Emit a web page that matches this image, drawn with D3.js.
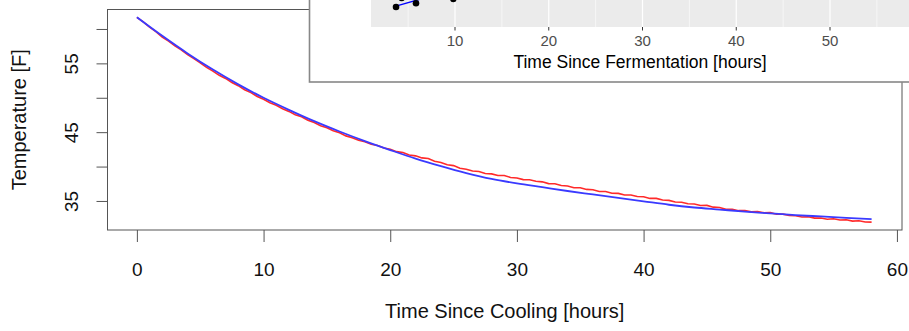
<!DOCTYPE html>
<html>
<head>
  <meta charset="utf-8">
  <title>Cooling curve</title>
  <script src="https://d3js.org/d3.v7.min.js"></script>
  <style>
    body { margin: 0; background: #fff; }
    svg { display: block; }
    text { font-family: "Liberation Sans", Arial, sans-serif; }
  </style>
</head>
<body>
  <svg id="chart"></svg>

  <script>
    // fitted cooling model (blue)
    const modelTime = [0, 2, 4, 6, 8, 10, 12, 14, 16, 18, 20, 22, 24, 26, 28, 30,
      32, 34, 36, 38, 40, 42, 44, 46, 48, 50, 52, 54, 56, 58];
    const modelTemp = [61.7, 59.0, 56.45, 54.1, 51.95, 50.0, 48.25, 46.6, 45.1, 43.7,
      42.4, 41.15, 40.05, 39.05, 38.2, 37.55, 37.0, 36.45, 35.95, 35.45, 34.95,
      34.45, 34.05, 33.75, 33.45, 33.2, 32.95, 32.75, 32.55, 32.35];

    // measured temperature (red)
    const measured = [
      [0, 61.70], [0.5, 61.03], [1, 60.28], [1.5, 59.60], [2, 58.82], [2.5, 58.25],
      [3, 57.55], [3.5, 56.97], [4, 56.26], [4.5, 55.68], [5, 55.07], [5.5, 54.41],
      [6, 53.87], [6.5, 53.26], [7, 52.81], [7.5, 52.22], [8, 51.76], [8.5, 51.17],
      [9, 50.75], [9.5, 50.19], [10, 49.79], [10.5, 49.29], [11, 48.92], [11.5, 48.40],
      [12, 48.02], [12.5, 47.54], [13, 47.23], [13.5, 46.73], [14, 46.39], [14.5, 45.93],
      [15, 45.63], [15.5, 45.20], [16, 44.90], [16.5, 44.46], [17, 44.18], [17.5, 43.82],
      [18, 43.60], [18.5, 43.23], [19, 43.06], [19.5, 42.69], [20, 42.52], [20.5, 42.17],
      [21, 42.05], [21.5, 41.69], [22, 41.56], [22.5, 41.26], [23, 41.18], [23.5, 40.76],
      [24, 40.60], [24.5, 40.26], [25, 40.14], [25.5, 39.75], [26, 39.61], [26.5, 39.36],
      [27, 39.29], [27.5, 39.00], [28, 38.94], [28.5, 38.71], [29, 38.70], [29.5, 38.42],
      [30, 38.35], [30.5, 38.10], [31, 38.09], [31.5, 37.86], [32, 37.78], [32.5, 37.52],
      [33, 37.50], [33.5, 37.24], [34, 37.18], [34.5, 36.93], [35, 36.92], [35.5, 36.68],
      [36, 36.63], [36.5, 36.38], [37, 36.38], [37.5, 36.13], [38, 36.10], [38.5, 35.86],
      [39, 35.87], [39.5, 35.64], [40, 35.61], [40.5, 35.37], [41, 35.38], [41.5, 35.13],
      [42, 35.08], [42.5, 34.84], [43, 34.82], [43.5, 34.60], [44, 34.56], [44.5, 34.34],
      [45, 34.36], [45.5, 34.10], [46, 34.05], [46.5, 33.79], [47, 33.79], [47.5, 33.59],
      [48, 33.59], [48.5, 33.41], [49, 33.46], [49.5, 33.28], [50, 33.30], [50.5, 33.08],
      [51, 33.09], [51.5, 32.88], [52, 32.86], [52.5, 32.67], [53, 32.71], [53.5, 32.51],
      [54, 32.52], [54.5, 32.34], [55, 32.41], [55.5, 32.24], [56, 32.26], [56.5, 32.07],
      [57, 32.13], [57.5, 31.94], [58, 31.93]
    ];

    const xTicks = [0, 10, 20, 30, 40, 50, 60];
    const yTicks = [35, 40, 45, 50, 55, 60];
    const yLabels = [35, 45, 55];

    // inset (ggplot panel, only its bottom strip is visible)
    const insetMajor = [10, 20, 30, 40, 50];
    const insetMinor = [5, 15, 25, 35, 45, 55];
    const insetPoints = [[3.71, 64.5], [4.31, 65.63], [5.84, 64.96], [9.82, 65.5]];
    const insetFit = [[3.7, 64.6], [6.5, 65.55]];

    const W = 909, H = 331;
    const svg = d3.select("#chart").attr("width", W).attr("height", H);

    const x = d3.scaleLinear().domain([-2.32, 60.4]).range([107.5, 902]);
    const y = d3.scaleLinear().domain([30.78, 62.83]).range([230, 9.5]);
    const axisCol = "#555";

    // lines
    const modelData = modelTime.map((t, i) => [t, modelTemp[i]]);
    const line = d3.line().x(d => x(d[0])).y(d => y(d[1]));

    svg.append("path")
      .datum(measured)
      .attr("d", line)
      .attr("fill", "none")
      .attr("stroke", "#ff2a2a")
      .attr("stroke-width", 1.6);

    svg.append("path")
      .datum(modelData)
      .attr("d", line.curve(d3.curveMonotoneX))
      .attr("fill", "none")
      .attr("stroke", "#3a3aff")
      .attr("stroke-width", 1.8);

    // box
    svg.append("rect")
      .attr("x", x.range()[0]).attr("y", y.range()[1])
      .attr("width", x.range()[1] - x.range()[0])
      .attr("height", y.range()[0] - y.range()[1])
      .attr("fill", "none")
      .attr("stroke", axisCol);

    // x axis
    const gx = svg.append("g")
      .attr("transform", `translate(0,${y.range()[0]})`)
      .call(d3.axisBottom(x).tickValues(xTicks).tickSize(12).tickPadding(21));
    gx.select(".domain").remove();
    gx.selectAll("line").attr("stroke", axisCol);
    gx.selectAll("text").attr("font-size", 19).attr("fill", "#111")
      .style("font-family", "'Liberation Sans', Arial, sans-serif");

    // y axis
    const gy = svg.append("g")
      .attr("transform", `translate(${x.range()[0]},0)`)
      .call(d3.axisLeft(y).tickValues(yTicks).tickSize(11)
        .tickFormat(d => yLabels.includes(d) ? d : ""));
    gy.select(".domain").remove();
    gy.selectAll("line").attr("stroke", axisCol);
    gy.selectAll("text")
      .attr("x", 0).attr("dy", 0)
      .attr("text-anchor", "middle")
      .attr("transform", "translate(-29.5,0) rotate(-90)")
      .attr("font-size", 19).attr("fill", "#111")
      .style("font-family", "'Liberation Sans', Arial, sans-serif");

    // axis titles
    svg.append("text")
      .attr("x", (x.range()[0] + x.range()[1]) / 2)
      .attr("y", 318)
      .attr("text-anchor", "middle")
      .attr("font-size", 20)
      .attr("fill", "#111")
      .text("Time Since Cooling [hours]");

    svg.append("text")
      .attr("transform", `translate(26,${(y.range()[0] + y.range()[1]) / 2}) rotate(-90)`)
      .attr("text-anchor", "middle")
      .attr("font-size", 20)
      .attr("fill", "#111")
      .text("Temperature [F]");

    // inset plot
    const ix = d3.scaleLinear().domain([10, 50]).range([455, 830]);
    const iy = d3.scaleLinear().domain([62, 70]).range([27, -37]);
    const inset = svg.append("g");

    inset.append("rect")
      .attr("x", 309.5).attr("y", -5)
      .attr("width", 620).attr("height", 87)
      .attr("fill", "#fff")
      .attr("stroke", "#888")
      .attr("stroke-width", 1.6);

    inset.append("rect")
      .attr("x", 371).attr("y", -5)
      .attr("width", 560).attr("height", 32)
      .attr("fill", "#ebebeb");

    inset.selectAll(".minor")
      .data(insetMinor)
      .enter()
      .append("line")
      .attr("class", "minor")
      .attr("x1", d => ix(d)).attr("x2", d => ix(d))
      .attr("y1", -5).attr("y2", 27)
      .attr("stroke", "#fff")
      .attr("stroke-width", 0.6);

    inset.selectAll(".major")
      .data(insetMajor)
      .enter()
      .append("line")
      .attr("class", "major")
      .attr("x1", d => ix(d)).attr("x2", d => ix(d))
      .attr("y1", -5).attr("y2", 27)
      .attr("stroke", "#fff")
      .attr("stroke-width", 1.2);

    inset.append("path")
      .datum(insetFit)
      .attr("d", d3.line().x(d => ix(d[0])).y(d => iy(d[1])))
      .attr("stroke", "#0000ff")
      .attr("stroke-width", 1.4)
      .attr("fill", "none");

    inset.selectAll(".pt")
      .data(insetPoints)
      .enter()
      .append("circle")
      .attr("class", "pt")
      .attr("cx", d => ix(d[0]))
      .attr("cy", d => iy(d[1]))
      .attr("r", 3.3)
      .attr("fill", "#000");

    inset.selectAll(".itick")
      .data(insetMajor)
      .enter()
      .append("line")
      .attr("class", "itick")
      .attr("x1", d => ix(d)).attr("x2", d => ix(d))
      .attr("y1", 27).attr("y2", 30.5)
      .attr("stroke", "#333")
      .attr("stroke-width", 1);

    inset.selectAll(".ilabel")
      .data(insetMajor)
      .enter()
      .append("text")
      .attr("class", "ilabel")
      .attr("x", d => ix(d))
      .attr("y", 45.5)
      .attr("text-anchor", "middle")
      .attr("font-size", 15)
      .attr("fill", "#4d4d4d")
      .text(d => d);

    inset.append("text")
      .attr("x", 640)
      .attr("y", 68)
      .attr("text-anchor", "middle")
      .attr("font-size", 17.5)
      .attr("fill", "#000")
      .text("Time Since Fermentation [hours]");
  </script>
</body>
</html>
